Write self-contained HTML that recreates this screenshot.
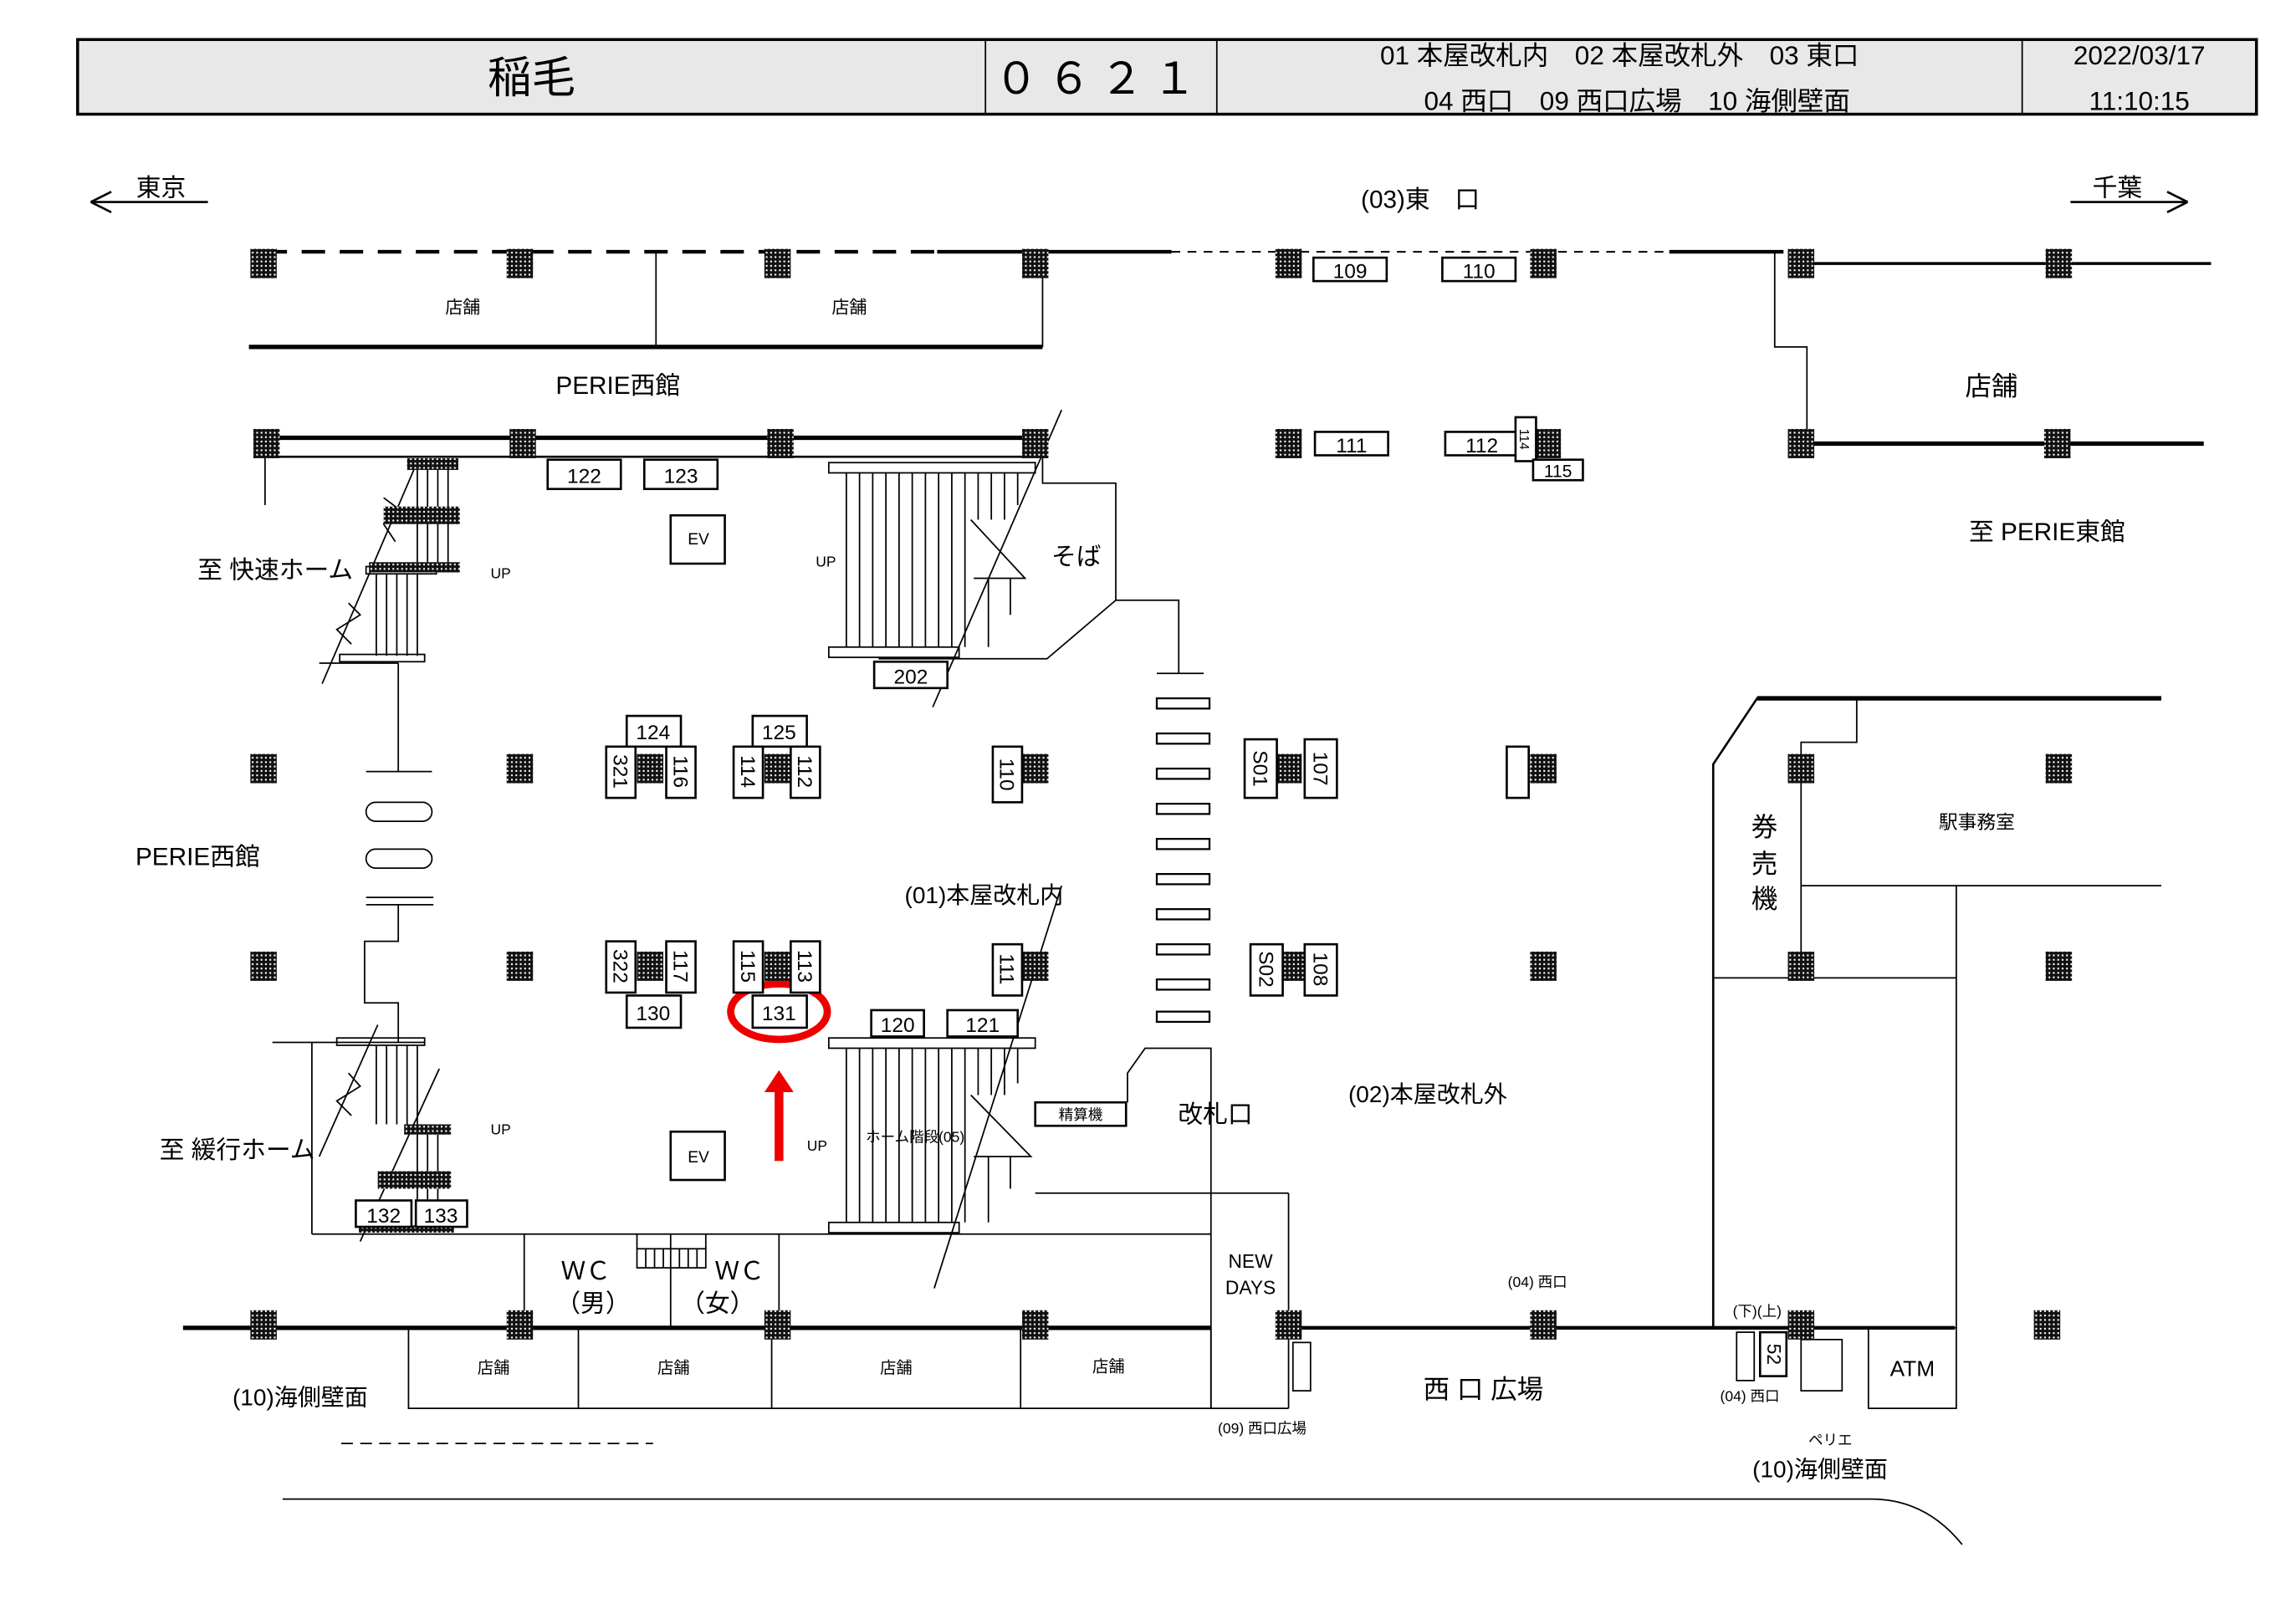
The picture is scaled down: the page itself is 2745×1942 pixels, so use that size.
<!DOCTYPE html>
<html><head><meta charset="utf-8"><style>
html,body{margin:0;padding:0;background:#fff}
svg{display:block}
text{font-family:"Liberation Sans Narrow","Liberation Sans","Noto Sans CJK JP",sans-serif;fill:#000}
</style></head><body>
<svg width="2745" height="1942" viewBox="0 0 1568 1109.3" xmlns="http://www.w3.org/2000/svg">
<defs>
<pattern id="ck" width="3" height="3" patternUnits="userSpaceOnUse"><rect width="3" height="3" fill="#111"/><rect x="1" y="1" width="1.2" height="1.2" fill="#fff"/></pattern>
</defs>
<g stroke="#000" fill="none">
<rect x="53" y="27" width="1488" height="51" fill="#e8e8e8" stroke-width="2"/>
<line x1="673" y1="27" x2="673" y2="78"/><line x1="831" y1="27" x2="831" y2="78"/><line x1="1381" y1="27" x2="1381" y2="78"/>
<path d="M62,138 L76,131 M62,138 L76,145 M142,138 L62,138" stroke-width="1.5"/>
<path d="M1414,138 L1494,138 M1494,138 L1480,131 M1494,138 L1480,145" stroke-width="1.5"/>
<line x1="180" y1="172" x2="640" y2="172" stroke-width="2.5" stroke-dasharray="16,10"/>
<line x1="640" y1="172" x2="800" y2="172" stroke-width="2.5"/>
<line x1="800" y1="172" x2="1140" y2="172" stroke-width="1.2" stroke-dasharray="6,5"/>
<line x1="1140" y1="172" x2="1218" y2="172" stroke-width="2.5"/>
<line x1="1230" y1="180" x2="1510" y2="180" stroke-width="2"/>
<line x1="448" y1="172" x2="448" y2="237"/><line x1="712" y1="180" x2="712" y2="237"/>
<line x1="170" y1="237" x2="712" y2="237" stroke-width="3"/>
<polyline points="1212,172 1212,237 1234,237 1234,303"/>
<line x1="1230" y1="303" x2="1505" y2="303" stroke-width="3"/>
<line x1="182" y1="299" x2="707" y2="299" stroke-width="3"/>
<line x1="182" y1="312" x2="707" y2="312" stroke-width="1.5"/>
<line x1="181" y1="312" x2="181" y2="345"/>
<line x1="725" y1="280" x2="637" y2="483"/>
<g stroke-width="1">
<line x1="285" y1="313" x2="285" y2="384"/><line x1="292" y1="313" x2="292" y2="384"/><line x1="299" y1="313" x2="299" y2="384"/><line x1="306" y1="313" x2="306" y2="384"/>
<line x1="257" y1="392" x2="257" y2="448"/><line x1="264" y1="392" x2="264" y2="448"/><line x1="271" y1="392" x2="271" y2="448"/><line x1="278" y1="392" x2="278" y2="448"/><line x1="285" y1="392" x2="285" y2="448"/>
</g>
<rect x="250" y="387" width="48" height="5" stroke-width="1"/>
<rect x="232" y="447" width="58" height="5" stroke-width="1"/>
<line x1="220" y1="467" x2="283" y2="320"/>
<polyline points="262,340 270,346 262,358 270,370"/>
<polyline points="238,412 246,420 230,430 240,440"/>
<line x1="218" y1="453" x2="272" y2="453"/>
<line x1="272" y1="453" x2="272" y2="527"/>
<line x1="250" y1="527" x2="295" y2="527"/>
<rect x="250" y="548" width="45" height="13" rx="6.5"/>
<rect x="250" y="580" width="45" height="13" rx="6.5"/>
<line x1="250" y1="613" x2="296" y2="613"/><line x1="250" y1="618" x2="296" y2="618"/>
<polyline points="272,618 272,643 249,643 249,685 272,685 272,712"/>
<line x1="186" y1="712" x2="290" y2="712"/>
<line x1="213" y1="712" x2="213" y2="843"/>
<rect x="230" y="709" width="60" height="5" stroke-width="1"/>
<g stroke-width="1">
<line x1="257" y1="714" x2="257" y2="768"/><line x1="264" y1="714" x2="264" y2="768"/><line x1="271" y1="714" x2="271" y2="768"/><line x1="278" y1="714" x2="278" y2="768"/><line x1="285" y1="714" x2="285" y2="768"/>
<line x1="285" y1="775" x2="285" y2="820"/><line x1="292" y1="775" x2="292" y2="820"/><line x1="299" y1="775" x2="299" y2="820"/>
</g>
<line x1="246" y1="848" x2="300" y2="730"/>
<line x1="218" y1="790" x2="258" y2="700"/>
<polyline points="238,733 246,742 230,752 240,762"/>
<line x1="213" y1="843" x2="827" y2="843"/>
<line x1="358" y1="843" x2="358" y2="907"/><line x1="458" y1="843" x2="458" y2="907"/><line x1="532" y1="843" x2="532" y2="907"/>
<rect x="435" y="853" width="47" height="13" stroke-width="1"/>
<line x1="441" y1="853" x2="441" y2="866"/><line x1="447" y1="853" x2="447" y2="866"/><line x1="453" y1="853" x2="453" y2="866"/><line x1="464" y1="853" x2="464" y2="866"/><line x1="470" y1="853" x2="470" y2="866"/><line x1="476" y1="853" x2="476" y2="866"/>
<line x1="435" y1="843" x2="435" y2="853"/><line x1="482" y1="843" x2="482" y2="853"/>
<line x1="125" y1="907" x2="827" y2="907" stroke-width="3"/>
<rect x="279" y="907" width="548" height="55"/>
<line x1="395" y1="907" x2="395" y2="962"/><line x1="527" y1="907" x2="527" y2="962"/><line x1="697" y1="907" x2="697" y2="962"/>
<line x1="233" y1="986" x2="446" y2="986" stroke-dasharray="8,5"/>
<path d="M193,1024 L1278,1024 Q1315,1024 1340,1055"/>
<rect x="566" y="316" width="141" height="7"/>
<rect x="566" y="442" width="89" height="7"/>
<g stroke-width="1">
<line x1="578" y1="323" x2="578" y2="442"/><line x1="587" y1="323" x2="587" y2="442"/><line x1="596" y1="323" x2="596" y2="442"/><line x1="605" y1="323" x2="605" y2="442"/><line x1="614" y1="323" x2="614" y2="442"/><line x1="623" y1="323" x2="623" y2="442"/><line x1="632" y1="323" x2="632" y2="442"/><line x1="641" y1="323" x2="641" y2="442"/><line x1="650" y1="323" x2="650" y2="442"/><line x1="659" y1="323" x2="659" y2="442"/>
<line x1="668" y1="323" x2="668" y2="355"/><line x1="677" y1="323" x2="677" y2="355"/><line x1="686" y1="323" x2="686" y2="355"/><line x1="695" y1="323" x2="695" y2="345"/>
<line x1="675" y1="395" x2="675" y2="442"/><line x1="690" y1="395" x2="690" y2="420"/>
</g>
<polyline points="663,355 700,395 665,395"/>
<polyline points="712,312 712,330 762,330 762,410 805,410 805,460"/>
<polyline points="762,410 715,450 600,450"/>
<line x1="790" y1="460" x2="822" y2="460"/>
<g stroke-width="1.3">
<rect x="790" y="477" width="36" height="7"/><rect x="790" y="501" width="36" height="7"/><rect x="790" y="525" width="36" height="7"/><rect x="790" y="549" width="36" height="7"/><rect x="790" y="573" width="36" height="7"/><rect x="790" y="597" width="36" height="7"/><rect x="790" y="621" width="36" height="7"/><rect x="790" y="645" width="36" height="7"/><rect x="790" y="669" width="36" height="7"/><rect x="790" y="691" width="36" height="7"/>
</g>
<rect x="566" y="709" width="141" height="7"/>
<rect x="566" y="835" width="89" height="7"/>
<g stroke-width="1">
<line x1="578" y1="716" x2="578" y2="835"/><line x1="587" y1="716" x2="587" y2="835"/><line x1="596" y1="716" x2="596" y2="835"/><line x1="605" y1="716" x2="605" y2="835"/><line x1="614" y1="716" x2="614" y2="835"/><line x1="623" y1="716" x2="623" y2="835"/><line x1="632" y1="716" x2="632" y2="835"/><line x1="641" y1="716" x2="641" y2="835"/><line x1="650" y1="716" x2="650" y2="835"/><line x1="659" y1="716" x2="659" y2="835"/>
<line x1="668" y1="716" x2="668" y2="748"/><line x1="677" y1="716" x2="677" y2="748"/><line x1="686" y1="716" x2="686" y2="748"/><line x1="695" y1="716" x2="695" y2="740"/>
<line x1="675" y1="790" x2="675" y2="835"/><line x1="690" y1="790" x2="690" y2="812"/>
</g>
<polyline points="663,748 704,790 665,790"/>
<line x1="725" y1="605" x2="638" y2="880"/>
<polyline points="770,753 770,733 782,716 827,716 827,962"/>
<line x1="707" y1="815" x2="880" y2="815"/>
<line x1="880" y1="815" x2="880" y2="962"/>
<line x1="827" y1="962" x2="880" y2="962"/>
<rect x="883" y="917" width="12" height="33" stroke-width="1"/>
<line x1="880" y1="907" x2="1335" y2="907" stroke-width="2.5"/>
<polyline points="1476,477 1200,477 1170,522 1170,907" stroke-width="1.5"/>
<line x1="1200" y1="477" x2="1476" y2="477" stroke-width="3"/>
<polyline points="1268,477 1268,507 1230,507 1230,668"/>
<line x1="1230" y1="605" x2="1476" y2="605"/>
<line x1="1170" y1="668" x2="1336" y2="668"/>
<line x1="1336" y1="605" x2="1336" y2="907"/>
<rect x="1276" y="907" width="60" height="55"/>
<rect x="1186" y="910" width="12" height="33" stroke-width="1"/>
<rect x="1230" y="915" width="28" height="35" stroke-width="1"/>
<ellipse cx="532" cy="691" rx="33" ry="19" stroke="#e00" stroke-width="5"/>
</g>
<rect x="529" y="745" width="6" height="48" fill="#e00"/>
<polygon points="522,746 542,746 532,731" fill="#e00"/>
<g fill="url(#ck)">
<rect x="278" y="313" width="35" height="8"/><rect x="262" y="346" width="52" height="12"/><rect x="252" y="384" width="62" height="7"/>
<rect x="276" y="768" width="32" height="7"/><rect x="258" y="800" width="50" height="12"/><rect x="245" y="837" width="65" height="5"/>
</g>
<g fill="url(#ck)">
<rect x="171" y="170" width="18" height="20"/><rect x="346" y="170" width="18" height="20"/><rect x="522" y="170" width="18" height="20"/><rect x="698" y="170" width="18" height="20"/><rect x="871" y="170" width="18" height="20"/><rect x="1045" y="170" width="18" height="20"/><rect x="1221" y="170" width="18" height="20"/><rect x="1397" y="170" width="18" height="20"/>
<rect x="173" y="293" width="18" height="20"/><rect x="348" y="293" width="18" height="20"/><rect x="524" y="293" width="18" height="20"/><rect x="698" y="293" width="18" height="20"/><rect x="871" y="293" width="18" height="20"/><rect x="1048" y="293" width="18" height="20"/><rect x="1221" y="293" width="18" height="20"/><rect x="1396" y="293" width="18" height="20"/>
<rect x="171" y="515" width="18" height="20"/><rect x="346" y="515" width="18" height="20"/><rect x="435" y="515" width="18" height="20"/><rect x="522" y="515" width="18" height="20"/><rect x="698" y="515" width="18" height="20"/><rect x="871" y="515" width="18" height="20"/><rect x="1045" y="515" width="18" height="20"/><rect x="1221" y="515" width="18" height="20"/><rect x="1397" y="515" width="18" height="20"/>
<rect x="171" y="650" width="18" height="20"/><rect x="346" y="650" width="18" height="20"/><rect x="435" y="650" width="18" height="20"/><rect x="522" y="650" width="18" height="20"/><rect x="698" y="650" width="18" height="20"/><rect x="873" y="650" width="18" height="20"/><rect x="1045" y="650" width="18" height="20"/><rect x="1221" y="650" width="18" height="20"/><rect x="1397" y="650" width="18" height="20"/>
<rect x="171" y="895" width="18" height="20"/><rect x="346" y="895" width="18" height="20"/><rect x="522" y="895" width="18" height="20"/><rect x="698" y="895" width="18" height="20"/><rect x="871" y="895" width="18" height="20"/><rect x="1045" y="895" width="18" height="20"/><rect x="1221" y="895" width="18" height="20"/><rect x="1389" y="895" width="18" height="20"/>
</g>
<g fill="#fff" stroke="#000" stroke-width="1.5">
<rect x="897" y="176" width="50" height="16"/><rect x="985" y="176" width="50" height="16"/>
<rect x="898" y="295" width="50" height="16"/><rect x="987" y="295" width="50" height="16"/>
<rect x="1035" y="285" width="14" height="30"/><rect x="1047" y="314" width="34" height="14"/>
<rect x="374" y="314" width="50" height="20"/><rect x="440" y="314" width="50" height="20"/>
<rect x="458" y="352" width="37" height="33"/><rect x="458" y="773" width="37" height="33"/>
<rect x="597" y="452" width="50" height="18"/>
<rect x="428" y="489" width="37" height="21"/><rect x="414" y="510" width="20" height="35"/><rect x="455" y="510" width="20" height="35"/>
<rect x="514" y="489" width="37" height="21"/><rect x="501" y="510" width="20" height="35"/><rect x="540" y="510" width="20" height="35"/>
<rect x="678" y="510" width="20" height="38"/>
<rect x="850" y="505" width="22" height="40"/><rect x="891" y="505" width="22" height="40"/>
<rect x="1029" y="510" width="15" height="35"/>
<rect x="414" y="643" width="20" height="35"/><rect x="455" y="643" width="20" height="35"/><rect x="428" y="680" width="37" height="22"/>
<rect x="501" y="643" width="20" height="35"/><rect x="540" y="643" width="20" height="35"/><rect x="514" y="680" width="37" height="22"/>
<rect x="678" y="645" width="20" height="35"/>
<rect x="854" y="645" width="22" height="35"/><rect x="891" y="645" width="22" height="35"/>
<rect x="595" y="690" width="36" height="18"/><rect x="647" y="690" width="48" height="18"/>
<rect x="707" y="753" width="62" height="16"/>
<rect x="243" y="820" width="38" height="18"/><rect x="284" y="820" width="35" height="18"/>
<rect x="1202" y="910" width="18" height="30"/>
</g>
<g text-anchor="middle">
<text x="363" y="63" font-size="30">稲毛</text>
<text x="751" y="64" font-size="30" letter-spacing="6">０６２１</text>
<text x="1106" y="44" font-size="18">01 本屋改札内　02 本屋改札外　03 東口</text>
<text x="1118" y="75" font-size="18">04 西口　09 西口広場　10 海側壁面</text>
<text x="1461" y="44" font-size="18">2022/03/17</text>
<text x="1461" y="75" font-size="18">11:10:15</text>
<text x="110" y="134" font-size="17">東京</text>
<text x="1446" y="134" font-size="17">千葉</text>
<text x="970" y="142" font-size="17">(03)東　口</text>
<text x="316" y="214" font-size="12">店舗</text><text x="580" y="214" font-size="12">店舗</text>
<text x="422" y="269" font-size="17">PERIE西館</text>
<text x="1360" y="270" font-size="18">店舗</text>
<text x="1398" y="369" font-size="17">至 PERIE東館</text>
<text x="188" y="395" font-size="17">至 快速ホーム</text>
<text x="135" y="591" font-size="17">PERIE西館</text>
<text x="162" y="791" font-size="17">至 緩行ホーム</text>
<text x="735" y="386" font-size="17">そば</text>
<text x="672" y="617" font-size="16">(01)本屋改札内</text>
<text x="975" y="753" font-size="16">(02)本屋改札外</text>
<text x="830" y="767" font-size="17">改札口</text>
<text x="205" y="960" font-size="16">(10)海側壁面</text>
<text x="1013" y="955" font-size="18">西 口 広場</text>
<text x="1243" y="1009" font-size="16">(10)海側壁面</text>
<text x="1250" y="987" font-size="10">ペリエ</text>
<text x="1050" y="879" font-size="10">(04) 西口</text>
<text x="1195" y="957" font-size="10">(04) 西口</text>
<text x="1200" y="899" font-size="10">(下)(上)</text>
<text x="862" y="979" font-size="10">(09) 西口広場</text>
<text x="854" y="866" font-size="13">NEW</text><text x="854" y="884" font-size="13">DAYS</text>
<text x="1350" y="566" font-size="13">駅事務室</text>
<text x="1205" y="571" font-size="18">券</text><text x="1205" y="596" font-size="18">売</text><text x="1205" y="620" font-size="18">機</text>
<text x="400" y="874" font-size="17">ＷＣ</text><text x="405" y="896" font-size="17">（男）</text>
<text x="505" y="874" font-size="17">ＷＣ</text><text x="490" y="896" font-size="17">（女）</text>
<text x="337" y="938" font-size="11">店舗</text><text x="460" y="938" font-size="11">店舗</text><text x="612" y="938" font-size="11">店舗</text><text x="757" y="937" font-size="11">店舗</text>
<text x="1306" y="940" font-size="15">ATM</text>
<text x="342" y="395" font-size="10">UP</text><text x="564" y="387" font-size="10">UP</text>
<text x="342" y="775" font-size="10">UP</text><text x="558" y="786" font-size="10">UP</text>
<text x="477" y="372" font-size="11">EV</text><text x="477" y="794" font-size="11">EV</text>
<text x="625" y="780" font-size="10">ホーム階段(05)</text>
<text x="738" y="765" font-size="10">精算機</text>
<g font-size="14">
<text x="922" y="190">109</text><text x="1010" y="190">110</text>
<text x="923" y="309">111</text><text x="1012" y="309">112</text>
<text x="1064" y="326" font-size="12">115</text>
<text x="399" y="330">122</text><text x="465" y="330">123</text>
<text x="622" y="467">202</text>
<text x="446" y="505">124</text><text x="532" y="505">125</text>
<text x="446" y="697">130</text><text x="532" y="697">131</text>
<text x="613" y="705">120</text><text x="671" y="705">121</text>
<text x="262" y="835">132</text><text x="301" y="835">133</text>
</g>
<g font-size="14">
<text transform="translate(419,527) rotate(90)">321</text>
<text transform="translate(460,527) rotate(90)">116</text>
<text transform="translate(506,527) rotate(90)">114</text>
<text transform="translate(545,527) rotate(90)">112</text>
<text transform="translate(683,529) rotate(90)">110</text>
<text transform="translate(856,525) rotate(90)">S01</text>
<text transform="translate(897,525) rotate(90)">107</text>
<text transform="translate(419,660) rotate(90)">322</text>
<text transform="translate(460,660) rotate(90)">117</text>
<text transform="translate(506,660) rotate(90)">115</text>
<text transform="translate(545,660) rotate(90)">113</text>
<text transform="translate(683,662) rotate(90)">111</text>
<text transform="translate(860,662) rotate(90)">S02</text>
<text transform="translate(897,662) rotate(90)">108</text>
<text transform="translate(1207,925) rotate(90)" font-size="13">52</text>
<text transform="translate(1038,300) rotate(90)" font-size="9">114</text>
</g>
</g>
</svg>
</body></html>
